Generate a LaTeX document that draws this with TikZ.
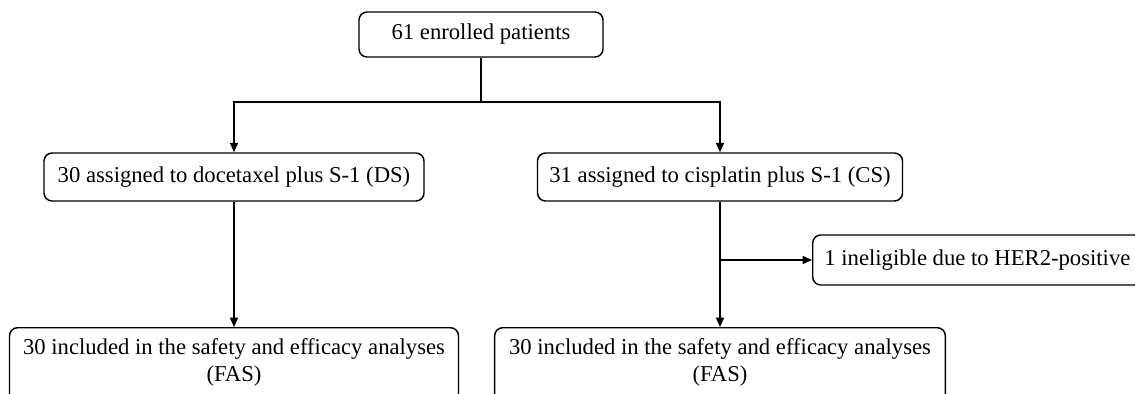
\documentclass[tikz,border=0pt]{standalone}
\usepackage{fontspec}
\setmainfont{Liberation Serif}
\usetikzlibrary{arrows.meta}

\tikzset{
  box/.style={draw=black, line width=1.1pt, rounded corners=6pt, align=center,
    font=\fontsize{17pt}{20.2pt}\selectfont, inner sep=0pt},
  link/.style={line width=1.1pt},
  arr/.style={link, -{Triangle[length=7pt,width=6pt]}}
}

\begin{document}
\begin{tikzpicture}[x=0.75pt, y=-0.75pt]
\useasboundingbox (0,0) rectangle (1135,393);
\clip (0,0) rectangle (1135,393);
\node[box, minimum width=183pt, minimum height=33.75pt] (enrol) at (481,34.5) {61 enrolled patients};
\node[box, minimum width=285pt, minimum height=36pt] (ds) at (234,177) {30 assigned to docetaxel plus S-1 (DS)};
\node[box, minimum width=273.75pt, minimum height=36pt] (cs) at (720,177) {31 assigned to cisplatin plus S-1 (CS)};
\node[box, anchor=west, minimum width=247pt, minimum height=37.5pt] (inel) at (812,260) {1 ineligible due to HER2-positive};
\node[box, anchor=north, minimum width=336.75pt, inner ysep=8pt] (fasds) at (234,327)
  {30 included in the safety and efficacy analyses\\(FAS)\\ \strut};
\node[box, anchor=north, minimum width=338pt, inner ysep=8pt] (fascs) at (720,327)
  {30 included in the safety and efficacy analyses\\(FAS)\\ \strut};
\coordinate (split) at (481,102);
\coordinate (excl) at (720,260);
\draw[link] (enrol) -- (split);
\draw[arr] (split) -| (ds);
\draw[arr] (split) -| (cs);
\draw[arr] (ds) -- (fasds);
\draw[arr] (cs) -- (fascs);
\draw[arr] (excl) -- (inel);
\end{tikzpicture}
\end{document}
